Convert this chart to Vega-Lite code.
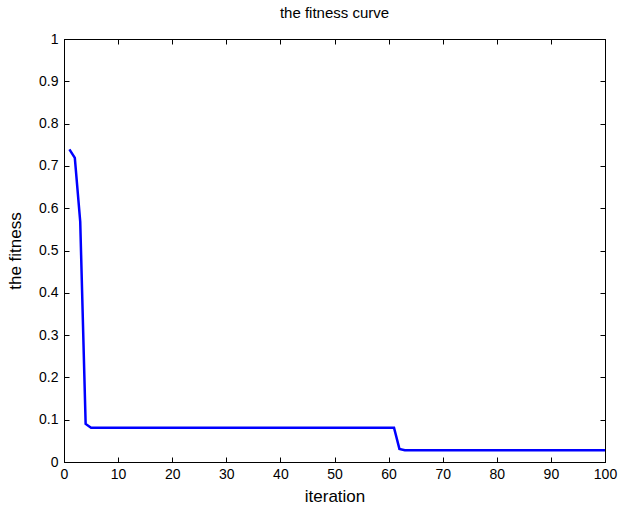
{
  "$schema": "https://vega.github.io/schema/vega-lite/v6.json",
  "width": 541,
  "height": 423,
  "autosize": {"type": "none"},
  "padding": {"left": 64, "top": 39, "right": 14, "bottom": 45},
  "background": "white",
  "title": {"text": "the fitness curve", "fontSize": 15, "fontWeight": "normal", "font": "Liberation Sans", "color": "black", "offset": 11},
  "config": {
    "view": {"stroke": "black", "strokeWidth": 1},
    "axis": {"grid": false, "domainColor": "black", "tickColor": "black", "labelColor": "black", "titleColor": "black", "labelFont": "Liberation Sans", "titleFont": "Liberation Sans", "labelFontSize": 14, "titleFontSize": 17, "titleFontWeight": "normal", "tickSize": -5, "domainWidth": 1, "labelFlush": false}
  },
  "data": {"values": [
    {"iteration": 1, "fitness": 0.739},
    {"iteration": 2, "fitness": 0.719},
    {"iteration": 3, "fitness": 0.568},
    {"iteration": 4, "fitness": 0.09},
    {"iteration": 5, "fitness": 0.081},
    {"iteration": 6, "fitness": 0.081},
    {"iteration": 7, "fitness": 0.081},
    {"iteration": 8, "fitness": 0.081},
    {"iteration": 9, "fitness": 0.081},
    {"iteration": 10, "fitness": 0.081},
    {"iteration": 11, "fitness": 0.081},
    {"iteration": 12, "fitness": 0.081},
    {"iteration": 13, "fitness": 0.081},
    {"iteration": 14, "fitness": 0.081},
    {"iteration": 15, "fitness": 0.081},
    {"iteration": 16, "fitness": 0.081},
    {"iteration": 17, "fitness": 0.081},
    {"iteration": 18, "fitness": 0.081},
    {"iteration": 19, "fitness": 0.081},
    {"iteration": 20, "fitness": 0.081},
    {"iteration": 21, "fitness": 0.081},
    {"iteration": 22, "fitness": 0.081},
    {"iteration": 23, "fitness": 0.081},
    {"iteration": 24, "fitness": 0.081},
    {"iteration": 25, "fitness": 0.081},
    {"iteration": 26, "fitness": 0.081},
    {"iteration": 27, "fitness": 0.081},
    {"iteration": 28, "fitness": 0.081},
    {"iteration": 29, "fitness": 0.081},
    {"iteration": 30, "fitness": 0.081},
    {"iteration": 31, "fitness": 0.081},
    {"iteration": 32, "fitness": 0.081},
    {"iteration": 33, "fitness": 0.081},
    {"iteration": 34, "fitness": 0.081},
    {"iteration": 35, "fitness": 0.081},
    {"iteration": 36, "fitness": 0.081},
    {"iteration": 37, "fitness": 0.081},
    {"iteration": 38, "fitness": 0.081},
    {"iteration": 39, "fitness": 0.081},
    {"iteration": 40, "fitness": 0.081},
    {"iteration": 41, "fitness": 0.081},
    {"iteration": 42, "fitness": 0.081},
    {"iteration": 43, "fitness": 0.081},
    {"iteration": 44, "fitness": 0.081},
    {"iteration": 45, "fitness": 0.081},
    {"iteration": 46, "fitness": 0.081},
    {"iteration": 47, "fitness": 0.081},
    {"iteration": 48, "fitness": 0.081},
    {"iteration": 49, "fitness": 0.081},
    {"iteration": 50, "fitness": 0.081},
    {"iteration": 51, "fitness": 0.081},
    {"iteration": 52, "fitness": 0.081},
    {"iteration": 53, "fitness": 0.081},
    {"iteration": 54, "fitness": 0.081},
    {"iteration": 55, "fitness": 0.081},
    {"iteration": 56, "fitness": 0.081},
    {"iteration": 57, "fitness": 0.081},
    {"iteration": 58, "fitness": 0.081},
    {"iteration": 59, "fitness": 0.081},
    {"iteration": 60, "fitness": 0.081},
    {"iteration": 61, "fitness": 0.081},
    {"iteration": 62, "fitness": 0.031},
    {"iteration": 63, "fitness": 0.028},
    {"iteration": 64, "fitness": 0.028},
    {"iteration": 65, "fitness": 0.028},
    {"iteration": 66, "fitness": 0.028},
    {"iteration": 67, "fitness": 0.028},
    {"iteration": 68, "fitness": 0.028},
    {"iteration": 69, "fitness": 0.028},
    {"iteration": 70, "fitness": 0.028},
    {"iteration": 71, "fitness": 0.028},
    {"iteration": 72, "fitness": 0.028},
    {"iteration": 73, "fitness": 0.028},
    {"iteration": 74, "fitness": 0.028},
    {"iteration": 75, "fitness": 0.028},
    {"iteration": 76, "fitness": 0.028},
    {"iteration": 77, "fitness": 0.028},
    {"iteration": 78, "fitness": 0.028},
    {"iteration": 79, "fitness": 0.028},
    {"iteration": 80, "fitness": 0.028},
    {"iteration": 81, "fitness": 0.028},
    {"iteration": 82, "fitness": 0.028},
    {"iteration": 83, "fitness": 0.028},
    {"iteration": 84, "fitness": 0.028},
    {"iteration": 85, "fitness": 0.028},
    {"iteration": 86, "fitness": 0.028},
    {"iteration": 87, "fitness": 0.028},
    {"iteration": 88, "fitness": 0.028},
    {"iteration": 89, "fitness": 0.028},
    {"iteration": 90, "fitness": 0.028},
    {"iteration": 91, "fitness": 0.028},
    {"iteration": 92, "fitness": 0.028},
    {"iteration": 93, "fitness": 0.028},
    {"iteration": 94, "fitness": 0.028},
    {"iteration": 95, "fitness": 0.028},
    {"iteration": 96, "fitness": 0.028},
    {"iteration": 97, "fitness": 0.028},
    {"iteration": 98, "fitness": 0.028},
    {"iteration": 99, "fitness": 0.028},
    {"iteration": 100, "fitness": 0.028}
  ]},
  "layer": [
    {
      "mark": {"type": "line", "color": "#0000ff", "strokeWidth": 2.5},
      "encoding": {
        "x": {"field": "iteration", "type": "quantitative", "scale": {"domain": [0, 100], "nice": false, "zero": false},
          "axis": {"orient": "bottom", "title": "iteration", "values": [0,10,20,30,40,50,60,70,80,90,100], "labelPadding": 10, "titlePadding": 7}},
        "y": {"field": "fitness", "type": "quantitative", "scale": {"domain": [0, 1], "nice": false},
          "axis": {"orient": "left", "title": "the fitness", "values": [0,0.1,0.2,0.3,0.4,0.5,0.6,0.7,0.8,0.9,1], "format": "~g", "labelPadding": 11, "titlePadding": 14}}
      }
    },
    {
      "mark": {"type": "line", "opacity": 0},
      "encoding": {
        "x": {"field": "iteration", "type": "quantitative", "scale": {"domain": [0, 100], "nice": false, "zero": false}, "axis": {"orient": "top", "title": null, "labels": false, "values": [0,10,20,30,40,50,60,70,80,90,100]}},
        "y": {"field": "fitness", "type": "quantitative", "scale": {"domain": [0, 1], "nice": false}, "axis": {"orient": "right", "title": null, "labels": false, "values": [0,0.1,0.2,0.3,0.4,0.5,0.6,0.7,0.8,0.9,1]}}
      }
    }
  ]
}
